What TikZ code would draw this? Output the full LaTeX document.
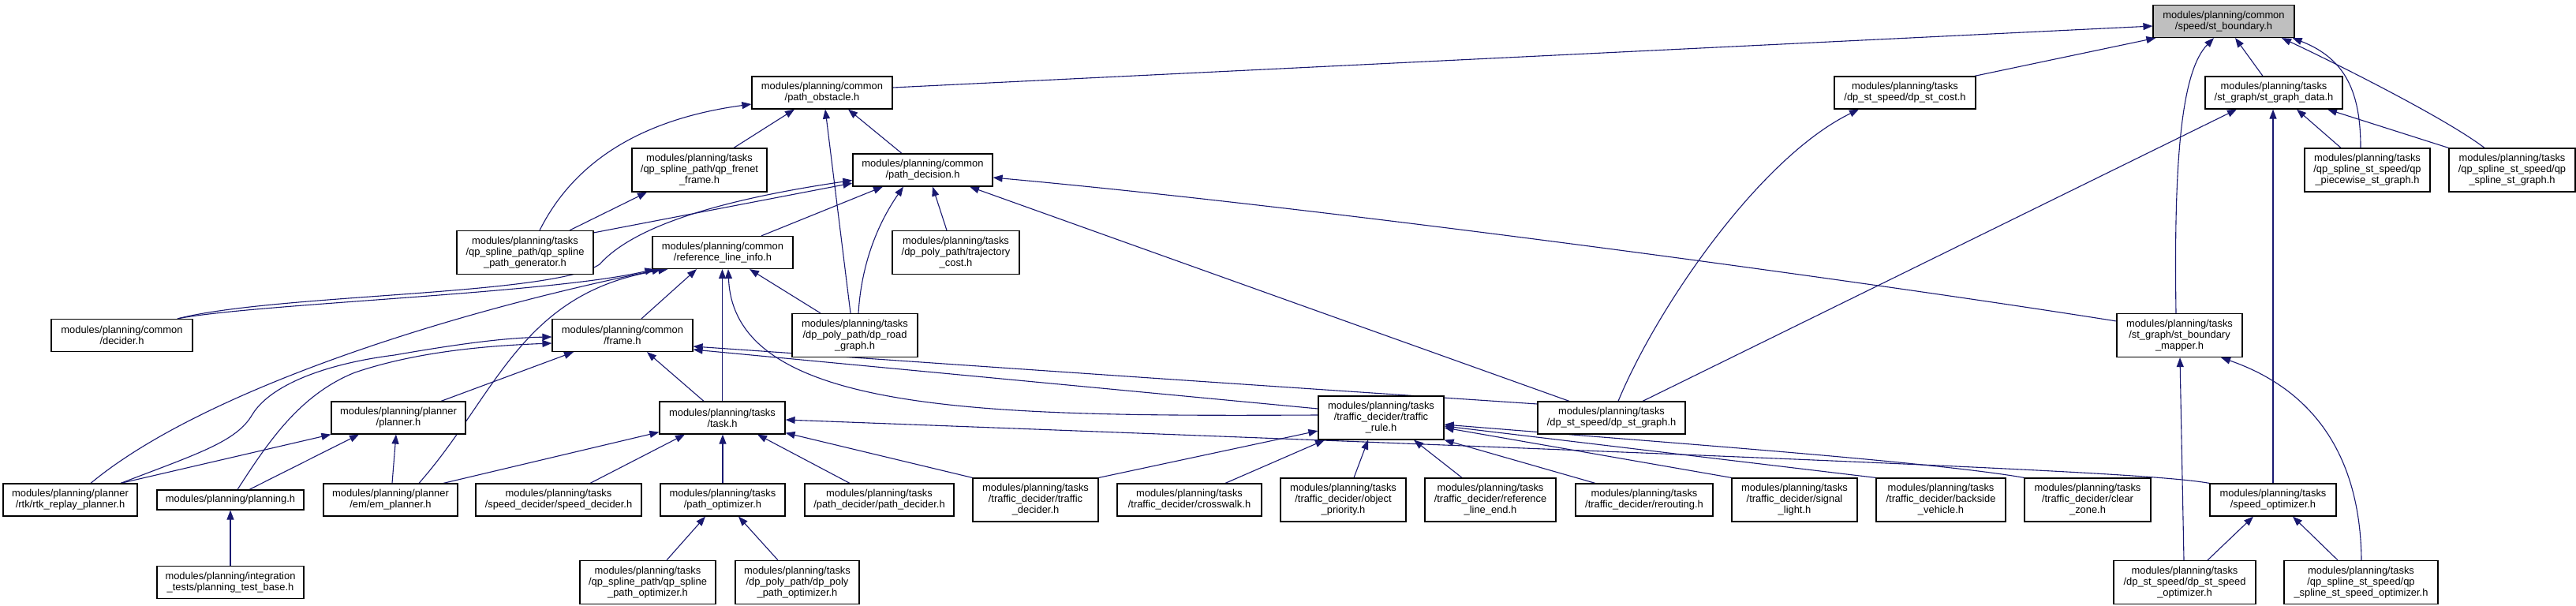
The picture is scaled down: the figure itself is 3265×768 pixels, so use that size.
\documentclass[tikz,border=0pt]{standalone}
\usepackage{fontspec}
\setmainfont{Liberation Sans}
\usetikzlibrary{arrows.meta}
\definecolor{edgecol}{RGB}{25,25,112}
\definecolor{rootfill}{RGB}{191,191,191}
\newcommand\nodefnt{\fontsize{12.9pt}{14pt}\selectfont}
\pgfdeclarelayer{bg}
\pgfsetlayers{bg,main}
\tikzset{
  box/.style={draw=black, line width=1.2pt, fill=white, inner sep=0pt, align=center, font=\nodefnt},
  nA/.style={box, minimum height=25pt},
  nB/.style={box, minimum height=41pt},
  nC/.style={box, minimum height=55pt},
  dep/.style={draw=edgecol, line width=1.1pt, -{Triangle[length=12pt,width=9pt]}}
}
\begin{document}
\begin{tikzpicture}[x=1pt,y=1pt]
\useasboundingbox (0,0) rectangle (3265,-768);
% rank 0
\node[nB, fill=rootfill, minimum width=179pt] (stb) at (2818.5,-27) {modules/planning/common\\/speed/st\_boundary.h};
% rank 1
\node[nB, minimum width=178pt] (obst) at (1042,-117.5) {modules/planning/common\\/path\_obstacle.h};
\node[nB, minimum width=179pt] (stcost) at (2414.5,-117.5) {modules/planning/tasks\\/dp\_st\_speed/dp\_st\_cost.h};
\node[nB, minimum width=174pt] (sgd) at (2882,-117.5) {modules/planning/tasks\\/st\_graph/st\_graph\_data.h};
% rank 2
\node[nC, minimum width=171pt] (frenet) at (886.5,-215.5) {modules/planning/tasks\\/qp\_spline\_path/qp\_frenet\\\_frame.h};
\node[nB, minimum width=177pt] (pdec) at (1169.5,-215.5) {modules/planning/common\\/path\_decision.h};
\node[nC, minimum width=159pt] (qpw) at (3000.5,-215.5) {modules/planning/tasks\\/qp\_spline\_st\_speed/qp\\\_piecewise\_st\_graph.h};
\node[nC, minimum width=160pt] (qpsg) at (3184,-215.5) {modules/planning/tasks\\/qp\_spline\_st\_speed/qp\\\_spline\_st\_graph.h};
% rank 3
\node[nC, minimum width=173pt] (qpgen) at (665.5,-320) {modules/planning/tasks\\/qp\_spline\_path/qp\_spline\\\_path\_generator.h};
\node[nB, minimum width=178pt] (rli) at (916,-320) {modules/planning/common\\/reference\_line\_info.h};
\node[nC, minimum width=161pt] (tcost) at (1211.5,-320) {modules/planning/tasks\\/dp\_poly\_path/trajectory\\\_cost.h};
% rank 4
\node[nB, minimum width=179pt] (decider) at (154.5,-425) {modules/planning/common\\/decider.h};
\node[nB, minimum width=178pt] (frame) at (789,-425) {modules/planning/common\\/frame.h};
\node[nC, minimum width=159pt] (roadg) at (1083.5,-425) {modules/planning/tasks\\/dp\_poly\_path/dp\_road\\\_graph.h};
\node[nC, minimum width=159pt] (sbm) at (2762.5,-425) {modules/planning/tasks\\/st\_graph/st\_boundary\\\_mapper.h};
% rank 5
\node[nB, minimum width=170pt] (planner) at (505,-529.5) {modules/planning/planner\\/planner.h};
\node[nB, minimum width=159pt] (task) at (915.5,-529.5) {modules/planning/tasks\\/task.h};
\node[nC, minimum width=159pt] (trule) at (1750.5,-529.5) {modules/planning/tasks\\/traffic\_decider/traffic\\\_rule.h};
\node[nB, minimum width=187pt] (stgraph) at (2042.5,-529.5) {modules/planning/tasks\\/dp\_st\_speed/dp\_st\_graph.h};
% rank 6
\node[nB, minimum width=170pt] (rtk) at (89,-633.5) {modules/planning/planner\\/rtk/rtk\_replay\_planner.h};
\node[nA, minimum width=186pt] (planning) at (292,-633.5) {modules/planning/planning.h};
\node[nB, minimum width=170pt] (em) at (495,-633.5) {modules/planning/planner\\/em/em\_planner.h};
\node[nB, minimum width=210pt] (sdec) at (708,-633.5) {modules/planning/tasks\\/speed\_decider/speed\_decider.h};
\node[nB, minimum width=158pt] (popt) at (916,-633.5) {modules/planning/tasks\\/path\_optimizer.h};
\node[nB, minimum width=189pt] (pdecider) at (1114.5,-633.5) {modules/planning/tasks\\/path\_decider/path\_decider.h};
\node[nC, minimum width=159pt] (tdec) at (1312.5,-633.5) {modules/planning/tasks\\/traffic\_decider/traffic\\\_decider.h};
\node[nB, minimum width=183pt] (cross) at (1507.5,-633.5) {modules/planning/tasks\\/traffic\_decider/crosswalk.h};
\node[nC, minimum width=159pt] (objp) at (1702.5,-633.5) {modules/planning/tasks\\/traffic\_decider/object\\\_priority.h};
\node[nC, minimum width=166pt] (rle) at (1889,-633.5) {modules/planning/tasks\\/traffic\_decider/reference\\\_line\_end.h};
\node[nB, minimum width=174pt] (rerout) at (2084,-633.5) {modules/planning/tasks\\/traffic\_decider/rerouting.h};
\node[nC, minimum width=159pt] (sig) at (2274.5,-633.5) {modules/planning/tasks\\/traffic\_decider/signal\\\_light.h};
\node[nC, minimum width=164pt] (back) at (2460,-633.5) {modules/planning/tasks\\/traffic\_decider/backside\\\_vehicle.h};
\node[nC, minimum width=160pt] (clear) at (2646,-633.5) {modules/planning/tasks\\/traffic\_decider/clear\\\_zone.h};
\node[nB, minimum width=160pt] (sopt) at (2881,-633.5) {modules/planning/tasks\\/speed\_optimizer.h};
% rank 7
\node[nB, minimum width=186pt] (ptb) at (292,-738) {modules/planning/integration\\\_tests/planning\_test\_base.h};
\node[nC, minimum width=172pt] (qpopt) at (821,-738) {modules/planning/tasks\\/qp\_spline\_path/qp\_spline\\\_path\_optimizer.h};
\node[nC, minimum width=157pt] (dpopt) at (1010.5,-738) {modules/planning/tasks\\/dp\_poly\_path/dp\_poly\\\_path\_optimizer.h};
\node[nC, minimum width=180pt] (dpso) at (2769,-738) {modules/planning/tasks\\/dp\_st\_speed/dp\_st\_speed\\\_optimizer.h};
\node[nC, minimum width=195pt] (qpso) at (2992.5,-738) {modules/planning/tasks\\/qp\_spline\_st\_speed/qp\\\_spline\_st\_speed\_optimizer.h};

\begin{pgfonlayer}{bg}
% to st_boundary
\draw[dep] ([yshift=6.5pt]obst.east) -- ([yshift=-6pt]stb.west);
\draw[dep] ([xshift=-2pt]stcost.north east) -- ([xshift=4pt]stb.south west);
\draw[dep] ([xshift=-14pt]sgd.north) -- ([xshift=14.5pt]stb.south);
\draw[dep] ([xshift=-4.5pt]sbm.north) .. controls (2755,-200) and (2765,-90) .. ([xshift=-12.5pt]stb.south);
\draw[dep] ([xshift=-8.5pt]qpw.north) .. controls (2992,-120) and (2975,-75) .. ([xshift=-3pt]stb.south east);
\draw[dep] ([xshift=-35pt]qpsg.north) .. controls (3100,-150) and (2960,-80) .. ([xshift=73.5pt]stb.south);
% to st_graph_data
\draw[dep] ([xshift=-33.5pt]qpw.north) -- ([xshift=29pt]sgd.south);
\draw[dep] (qpsg.north west) -- ([xshift=68pt]sgd.south);
\draw[dep] (sopt.north) -- (sopt.north |- sgd.south);
\draw[dep] ([xshift=39.5pt]stgraph.north) -- ([xshift=-47pt]sgd.south);
% to dp_st_cost
\draw[dep] ([xshift=8.5pt]stgraph.north) .. controls (2100,-390) and (2230,-200) .. ([xshift=-58.5pt]stcost.south);
% to path_obstacle
\draw[dep] ([xshift=43.5pt]frenet.north) -- ([xshift=-35pt]obst.south);
\draw[dep] ([xshift=-26.5pt]pdec.north) -- ([xshift=33pt]obst.south);
\draw[dep] ([xshift=18.5pt]qpgen.north) .. controls (730,-200) and (820,-150) .. ([yshift=-14.5pt]obst.west);
\draw[dep] ([xshift=-5.5pt]roadg.north) -- ([xshift=4pt]obst.south);
% to qp_frenet_frame
\draw[dep] ([xshift=56.5pt]qpgen.north) -- ([xshift=-66.5pt]frenet.south);
% to path_decision
\draw[dep] ([yshift=-3pt]qpgen.north east) -- ([yshift=-16.5pt]pdec.west);
\draw[dep] ([xshift=70.5pt]decider.north) .. controls (350,-372) and (700,-375) .. (760,-335) .. controls (800,-290) and (900,-255) .. ([yshift=-13pt]pdec.west);
\draw[dep] ([xshift=49pt]rli.north) -- ([xshift=-50.5pt]pdec.south);
\draw[dep] ([xshift=-11.5pt]tcost.north) -- ([xshift=12.5pt]pdec.south);
\draw[dep] ([xshift=4.5pt]roadg.north) .. controls (1092,-330) and (1115,-280) .. ([xshift=-24.5pt]pdec.south);
\draw[dep] ([yshift=18pt]sbm.west) .. controls (2400,-362) and (1700,-265) .. ([yshift=-9.5pt]pdec.east);
\draw[dep] ([xshift=-53.5pt]stgraph.north) -- ([xshift=59.5pt]pdec.south);
% to reference_line_info
\draw[dep] ([xshift=70.5pt]decider.north) .. controls (320,-385) and (700,-372) .. ([xshift=3pt]rli.south west);
\draw[dep] ([xshift=24pt]frame.north) -- ([xshift=-33pt]rli.south);
\draw[dep] (task.north) -- (task.north |- rli.south);
\draw[dep] ([xshift=-43.5pt]roadg.north) -- ([xshift=34pt]rli.south);
\draw[dep] ([xshift=26pt]rtk.north) .. controls (250,-500) and (550,-400) .. ([xshift=12pt]rli.south west);
\draw[dep] ([xshift=36pt]em.north) .. controls (630,-500) and (660,-370) .. ([xshift=20pt]rli.south west);
\draw[dep] ([yshift=3.5pt]trule.west) .. controls (1250,-528) and (930,-525) .. ([xshift=7pt]rli.south);
% to frame
\draw[dep] ([xshift=-23.5pt]task.north) -- ([xshift=31pt]frame.south);
\draw[dep] ([xshift=54pt]planner.north) -- ([xshift=-62pt]frame.south);
\draw[dep] ([xshift=64pt]rtk.north) .. controls (250,-575) and (300,-560) .. (320,-525) .. controls (345,-485) and (420,-460) .. (500,-450) .. controls (580,-436) and (640,-428) .. ([yshift=-2pt]frame.west);
\draw[dep] ([xshift=9pt]planning.north) .. controls (340,-560) and (380,-500) .. (450,-472) .. controls (530,-445) and (620,-438) .. ([yshift=-10pt]frame.west);
\draw[dep] ([yshift=11.5pt]trule.west) -- ([yshift=-18pt]frame.east);
\draw[dep] ([yshift=17.5pt]stgraph.west) .. controls (1500,-482) .. ([yshift=-14pt]frame.east);
% to planner
\draw[dep] ([xshift=64pt]rtk.north) -- (planner.south west);
\draw[dep] ([xshift=24pt]planning.north) -- ([xshift=-50pt]planner.south);
\draw[dep] ([xshift=2pt]em.north) -- ([xshift=-3pt]planner.south);
% to task
\draw[dep] ([xshift=67pt]em.north) -- ([yshift=3pt]task.south west);
\draw[dep] ([xshift=40pt]sdec.north) -- ([xshift=-47.5pt]task.south);
\draw[dep] (popt.north) -- (popt.north |- task.south);
\draw[dep] ([xshift=-37.5pt]pdecider.north) -- ([xshift=44.5pt]task.south);
\draw[dep] (tdec.north west) -- ([yshift=2pt]task.south east);
\draw[dep] (sopt.north west) .. controls (2730,-600) and (2450,-587) .. ([yshift=-2.5pt]task.east);
% to traffic_rule
\draw[dep] (tdec.north east) -- ([yshift=-16.5pt]trule.west);
\draw[dep] ([xshift=45.5pt]cross.north) -- ([xshift=-71.5pt]trule.south);
\draw[dep] ([xshift=13.5pt]objp.north) -- ([xshift=-16.5pt]trule.south);
\draw[dep] ([xshift=-36pt]rle.north) -- ([xshift=41.5pt]trule.south);
\draw[dep] ([xshift=-62pt]rerout.north) -- (trule.south east);
\draw[dep] (sig.north west) -- ([yshift=-12.5pt]trule.east);
\draw[dep] (back.north west) -- ([yshift=-10.5pt]trule.east);
\draw[dep] (clear.north west) .. controls (2450,-585) and (2100,-560) .. ([yshift=-8.5pt]trule.east);
% bottom rank
\draw[dep] (ptb.north) -- (planning.south);
\draw[dep] ([xshift=24pt]qpopt.north) -- ([xshift=-22pt]popt.south);
\draw[dep] ([xshift=-24.5pt]dpopt.north) -- ([xshift=20pt]popt.south);
\draw[dep] ([xshift=29pt]dpso.north) -- ([xshift=-25pt]sopt.south);
\draw[dep] ([xshift=-29.5pt]qpso.north) -- ([xshift=25pt]sopt.south);
\draw[dep] ([xshift=-1pt]dpso.north) -- ([xshift=0.5pt]sbm.south);
\draw[dep] ([xshift=0.5pt]qpso.north) .. controls (2992,-600) and (2950,-500) .. ([xshift=52.5pt]sbm.south);
\end{pgfonlayer}
\end{tikzpicture}
\end{document}
